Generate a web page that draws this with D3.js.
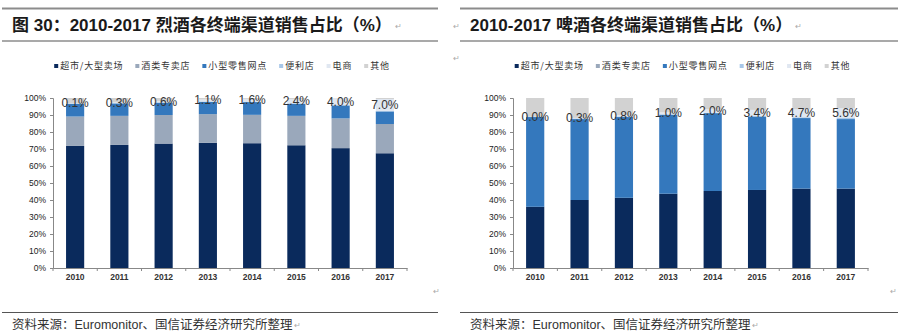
<!DOCTYPE html>
<html>
<head>
<meta charset="utf-8">
<script src="https://cdn.jsdelivr.net/npm/d3@7"></script>
<style>
  html, body { margin: 0; padding: 0; background: #fff; }
  svg { display: block; }
</style>
</head>
<body>
<svg id="chart" width="906" height="333"></svg>
<script>
// ---------- data ----------
const years = ["2010", "2011", "2012", "2013", "2014", "2015", "2016", "2017"];
const seriesNames = ["超市/大型卖场", "酒类专卖店", "小型零售网点", "便利店", "电商", "其他"];
const yTicks = [0, 10, 20, 30, 40, 50, 60, 70, 80, 90, 100];

// 烈酒 (spirits)
const spiritsHyper  = [71.8, 72.4, 73.2, 73.6, 73.4, 72.2, 70.5, 67.5];
const spiritsLiquor = [17.3, 17.1, 16.8, 16.9, 16.7, 17.3, 17.5, 17.2];
const spiritsSmall  = [7.4, 7.3, 7.2, 7.2, 7.5, 7.1, 7.6, 7.4];
const spiritsConv   = [0.3, 0.3, 0.3, 0.3, 0.3, 0.3, 0.3, 0.3];
const spiritsEcom   = [0.1, 0.3, 0.6, 1.1, 1.6, 2.4, 4.0, 7.0];
const spiritsOther  = [3.1, 2.6, 1.9, 0.9, 0.5, 0.7, 0.1, 0.6];

// 啤酒 (beer)
const beerHyper  = [36.0, 40.0, 41.3, 43.7, 45.3, 45.9, 46.7, 46.7];
const beerLiquor = [0, 0, 0, 0, 0, 0, 0, 0];
const beerSmall  = [52.8, 47.6, 47.5, 46.4, 45.8, 43.2, 41.5, 40.9];
const beerConv   = [0.3, 0.4, 0.4, 0.4, 0.3, 0.5, 0.5, 0.9];
const beerEcom   = [0.0, 0.3, 0.8, 1.0, 2.0, 3.4, 4.7, 5.6];
const beerOther  = [10.9, 11.7, 10.0, 8.5, 6.6, 7.0, 6.6, 5.9];

const colors = ["#0a2a5c", "#9aa8bb", "#3478bd", "#a8c7e8", "#e0e7f1", "#d2d2d2"];

const titleLeft = "图 30：2010-2017 烈酒各终端渠道销售占比（%）";
const titleRight = "2010-2017 啤酒各终端渠道销售占比（%）";
const sourceText = "资料来源：Euromonitor、国信证券经济研究所整理";

// ---------- drawing ----------
const svg = d3.select("#chart");
const FONT = "'Liberation Sans', Arial, 'Noto Sans CJK SC', sans-serif";
const CJK = "'Noto Sans CJK SC', 'Liberation Sans', sans-serif";

function buildRows(arrs) {
  return years.map((y, i) => {
    const r = { year: y };
    seriesNames.forEach((s, k) => { r[s] = arrs[k][i]; });
    return r;
  });
}

function retMark(x, y) {
  svg.append("text").attr("x", x).attr("y", y)
    .attr("font-family", FONT).attr("font-size", 8).attr("fill", "#aaa").text("↵");
}

function drawPanel(opts) {
  const g = svg.append("g");
  const { x0, x1, yTop, yBottom } = opts;

  // header rules and title
  g.append("line").attr("x1", opts.ruleX0).attr("x2", opts.ruleX1)
    .attr("y1", 8.5).attr("y2", 8.5).attr("stroke", "#8c8c8c").attr("stroke-width", 2);
  g.append("line").attr("x1", opts.ruleX0).attr("x2", opts.ruleX1)
    .attr("y1", 41).attr("y2", 41).attr("stroke", "#8c8c8c").attr("stroke-width", 1.5);
  const t = g.append("text").attr("x", opts.titleX).attr("y", 30.5)
    .attr("font-family", FONT).attr("font-size", 17).attr("font-weight", "bold")
    .attr("fill", "#1a1a1a").text(opts.title);
  const tw = t.node().getComputedTextLength();
  retMark(opts.titleX + tw + 3, 29);

  // footer rule and source
  g.append("line").attr("x1", opts.ruleX0).attr("x2", opts.ruleX1)
    .attr("y1", 312.5).attr("y2", 312.5).attr("stroke", "#555").attr("stroke-width", 1);
  const s = g.append("text").attr("x", opts.titleX).attr("y", 329)
    .attr("font-family", FONT).attr("font-size", 12.5)
    .attr("fill", "#333").text(sourceText);
  retMark(opts.titleX + s.node().getComputedTextLength() + 1, 328);

  // scales
  const x = d3.scaleBand().domain(years).range([x0, x1])
    .paddingInner(0.59).paddingOuter(0.295);
  const y = d3.scaleLinear().domain([0, 100]).range([yBottom, yTop]);

  const rows = buildRows(opts.data);
  const stack = d3.stack().keys(seriesNames);
  const layers = stack(rows);

  // bars
  const layerG = g.append("g").selectAll("g").data(layers).join("g")
    .attr("fill", (d, i) => colors[i]);
  layerG.selectAll("rect").data(d => d).join("rect")
    .attr("x", d => x(d.data.year))
    .attr("width", x.bandwidth())
    .attr("y", d => y(d[1]))
    .attr("height", d => Math.max(0, y(d[0]) - y(d[1])));

  // y axis
  const yAxis = d3.axisLeft(y).tickValues(yTicks).tickFormat(d => d + "%")
    .tickSize(3).tickPadding(4);
  const ya = g.append("g").attr("transform", `translate(${x0},0)`).call(yAxis);
  ya.select(".domain").attr("stroke", "#888");
  ya.selectAll(".tick line").attr("stroke", "#888");
  ya.selectAll(".tick text").attr("font-family", FONT).attr("font-size", 8.5)
    .attr("fill", "#222");

  // x axis
  const xAxis = d3.axisBottom(x).tickSize(0).tickPadding(6);
  const xa = g.append("g").attr("transform", `translate(0,${yBottom})`).call(xAxis);
  xa.select(".domain").attr("stroke", "#888");
  xa.selectAll(".tick text").attr("font-family", FONT).attr("font-size", 8.5)
    .attr("font-weight", "bold").attr("fill", "#333");
  // category boundary ticks
  const step = x.step();
  const bounds = years.map(yv => x(yv) - (step - x.bandwidth()) / 2).concat([x1]);
  g.append("g").selectAll("line").data(bounds).join("line")
    .attr("x1", d => d).attr("x2", d => d)
    .attr("y1", yBottom).attr("y2", yBottom + 3)
    .attr("stroke", "#888");

  // e-commerce data labels
  const ecom = layers[4];
  g.append("g").selectAll("text").data(ecom).join("text")
    .attr("x", d => x(d.data.year) + x.bandwidth() / 2)
    .attr("y", d => y((d[0] + d[1]) / 2))
    .attr("text-anchor", "middle").attr("dominant-baseline", "central")
    .attr("font-family", FONT).attr("font-size", 12).attr("fill", "#333")
    .text(d => (d[1] - d[0]).toFixed(1) + "%");

  // legend
  const lg = g.append("g");
  const items = lg.selectAll("g").data(seriesNames).join("g");
  items.append("rect").attr("width", 4).attr("height", 4)
    .attr("fill", (d, i) => colors[i]);
  items.append("text").attr("x", 6).attr("y", 4.5)
    .attr("font-family", CJK).attr("font-size", 9).attr("letter-spacing", 0.8)
    .attr("fill", "#333").text(d => d);
  let cx = 0;
  items.each(function () {
    const w = this.querySelector("text").getComputedTextLength();
    d3.select(this).attr("transform", `translate(${cx},0)`);
    cx += 6 + w + 12;
  });
  const total = cx - 12;
  const center = (x0 + x1) / 2 - 8;
  lg.attr("transform", `translate(${center - total / 2},${64})`);

  // return mark under plot
  retMark(opts.markX, 294);
}

drawPanel({
  x0: 53, x1: 407, yTop: 98, yBottom: 268,
  ruleX0: 2, ruleX1: 438, titleX: 12, markX: 433,
  title: titleLeft,
  data: [spiritsHyper, spiritsLiquor, spiritsSmall, spiritsConv, spiritsEcom, spiritsOther]
});
drawPanel({
  x0: 513, x1: 868, yTop: 98, yBottom: 268,
  ruleX0: 460, ruleX1: 898, titleX: 470, markX: 890,
  title: titleRight,
  data: [beerHyper, beerLiquor, beerSmall, beerConv, beerEcom, beerOther]
});
retMark(453, 29);
retMark(453, 61);
</script>
</body>
</html>
